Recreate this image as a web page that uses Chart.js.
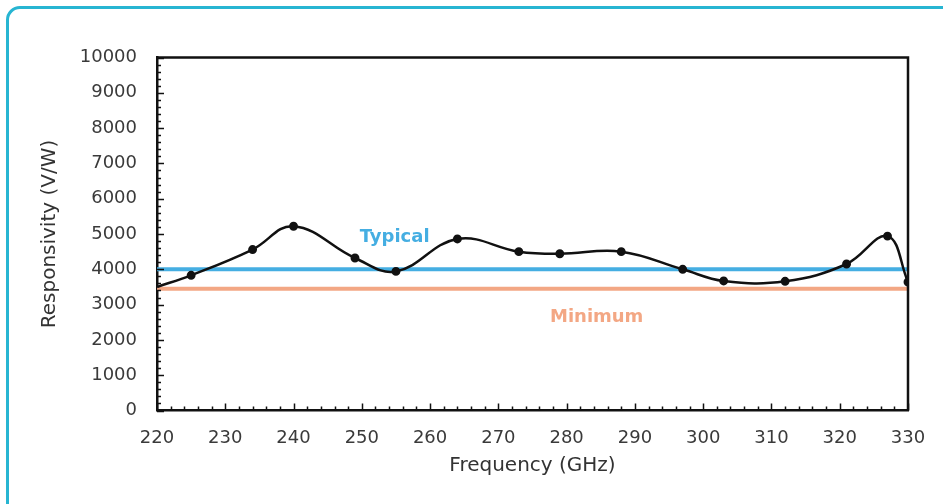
<!DOCTYPE html>
<html>
<head>
<meta charset="utf-8">
<script src="https://cdn.jsdelivr.net/npm/chart.js@4"></script>
<style>
  html, body { margin: 0; padding: 0; background: #fff; overflow: hidden; }
  .card {
    position: absolute; left: 6px; top: 6px; width: 1000px; height: 600px;
    border: 3px solid #27b5d2; border-radius: 14px; box-sizing: border-box;
  }
  .wrap { position: absolute; left: 0; top: 0; width: 943px; height: 504px; }
</style>
</head>
<body>
<div class="card"></div>
<div class="wrap"><canvas id="chart"></canvas></div>
<script>
// measured responsivity curve
const freqs = [220, 225, 234, 240, 249, 255, 264, 273, 279, 288, 297, 303, 312, 321, 327, 330];
const resp = [3500, 3830, 4560, 5220, 4320, 3940, 4860, 4500, 4440, 4500, 4000, 3670, 3660, 4150, 4940, 3640];

// reference levels
const typicalLevel = 4000;
const minimumLevel = 3450;
const levelRange = [220, 330];

const fontFam = "'DejaVu Sans', 'Noto Sans', sans-serif";
const TYPICAL_COLOR = "#45aee2";
const MIN_COLOR = "#f3a784";

// inward minor ticks, frame and the two level labels
const decorations = {
  id: "decorations",
  afterDatasetsDraw(chart) {
    const { ctx, chartArea: a, scales: { x, y } } = chart;
    ctx.save();
    ctx.strokeStyle = "#111";
    ctx.lineWidth = 1.5;
    ctx.beginPath();
    for (let f = 220; f <= 330; f += 2) {
      const px = Math.round(x.getPixelForValue(f)) + 0.5;
      const len = f % 10 === 0 ? 7 : 4;
      ctx.moveTo(px, a.bottom);
      ctx.lineTo(px, a.bottom - len);
    }
    for (let v = 0; v <= 10000; v += 200) {
      const py = Math.round(y.getPixelForValue(v)) + 0.5;
      const len = v % 1000 === 0 ? 7 : 4;
      ctx.moveTo(a.left, py);
      ctx.lineTo(a.left + len, py);
    }
    ctx.stroke();

    // top and right frame
    ctx.lineWidth = 2.5;
    ctx.beginPath();
    ctx.moveTo(a.left, a.top);
    ctx.lineTo(a.right, a.top);
    ctx.lineTo(a.right, a.bottom);
    ctx.stroke();

    ctx.font = "bold 18px " + fontFam;
    ctx.textAlign = "center";
    ctx.textBaseline = "middle";
    ctx.fillStyle = TYPICAL_COLOR;
    ctx.fillText("Typical", x.getPixelForValue(254.8), y.getPixelForValue(4900));
    ctx.fillStyle = MIN_COLOR;
    ctx.fillText("Minimum", x.getPixelForValue(284.4), y.getPixelForValue(2650));
    ctx.restore();
  },
};

new Chart(document.getElementById("chart"), {
  type: "line",
  data: {
    datasets: [
      {
        label: "Minimum",
        data: levelRange.map((f) => ({ x: f, y: minimumLevel })),
        borderColor: MIN_COLOR,
        borderWidth: 4,
        pointRadius: 0,
        order: 3,
      },
      {
        label: "Typical",
        data: levelRange.map((f) => ({ x: f, y: typicalLevel })),
        borderColor: TYPICAL_COLOR,
        borderWidth: 4,
        pointRadius: 0,
        order: 2,
      },
      {
        label: "Responsivity",
        data: freqs.map((f, i) => ({ x: f, y: resp[i] })),
        borderColor: "#111",
        backgroundColor: "#111",
        borderWidth: 2.5,
        tension: 0.4,
        pointRadius: freqs.map((f, i) => (i === 0 ? 0 : 3.2)),
        order: 1,
      },
    ],
  },
  options: {
    responsive: true,
    maintainAspectRatio: false,
    animation: false,
    layout: { padding: { top: 57.5, right: 35, bottom: 0, left: 0 } },
    plugins: { legend: { display: false }, tooltip: { enabled: false } },
    scales: {
      x: {
        type: "linear",
        min: 220,
        max: 330,
        afterFit: (s) => { s.height = 93.5; },
        ticks: {
          stepSize: 10,
          color: "#3a3a3a",
          padding: 17,
          font: { family: fontFam, size: 18 },
          maxRotation: 0,
          callback: (v) => String(v),
        },
        grid: { display: false, drawTicks: false },
        border: { display: true, color: "#111", width: 2.5 },
        title: {
          display: true,
          text: "Frequency (GHz)",
          color: "#333",
          font: { family: fontFam, size: 20 },
          padding: { top: 0, bottom: 26 },
        },
      },
      y: {
        min: 0,
        max: 10000,
        afterFit: (s) => { s.width = 157; },
        ticks: {
          stepSize: 1000,
          color: "#3a3a3a",
          padding: 20,
          font: { family: fontFam, size: 18 },
          callback: (v) => String(v),
        },
        grid: { display: false, drawTicks: false },
        border: { display: true, color: "#111", width: 2.5 },
        title: {
          display: true,
          text: "Responsivity (V/W)",
          color: "#333",
          font: { family: fontFam, size: 20 },
          padding: { top: 38, bottom: 0 },
        },
      },
    },
  },
  plugins: [decorations],
});
</script>
</body>
</html>
